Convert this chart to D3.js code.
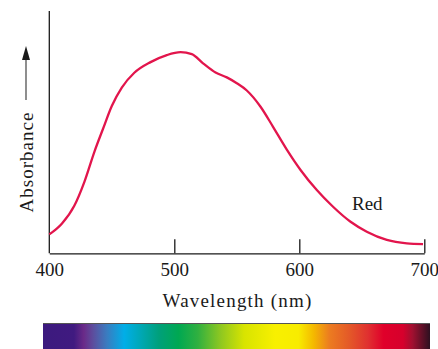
<!DOCTYPE html>
<html>
<head>
<meta charset="utf-8">
<script src="https://cdn.jsdelivr.net/npm/d3@7"></script>
<style>
  body { margin: 0; background: #fff; }
  svg { display: block; }
  .axis path, .axis line { stroke: #1a1a1a; stroke-width: 1.3; }
  .lbl { font-family: "Liberation Serif", serif; fill: #1a1a1a; }
</style>
</head>
<body>
<div id="chart"></div>
<script>
// absorbance spectrum of the red cone pigment (relative units)
const wavelengths = [400, 410, 420, 428, 436, 443, 450, 458, 468, 481, 494, 505, 514, 523, 533, 542, 550, 558, 569, 579, 590, 601, 614, 627, 641, 654, 670, 686, 699];
const absorbance = [0.078, 0.122, 0.196, 0.294, 0.418, 0.514, 0.608, 0.684, 0.745, 0.789, 0.818, 0.830, 0.822, 0.784, 0.746, 0.726, 0.702, 0.672, 0.605, 0.522, 0.428, 0.344, 0.261, 0.192, 0.130, 0.089, 0.055, 0.041, 0.038];
const xTicks = [400, 500, 600, 700];

// visible spectrum strip below the chart
const spectrumStops = [0, 0.08, 0.105, 0.13, 0.165, 0.21, 0.25, 0.3, 0.35, 0.4, 0.46, 0.52, 0.6, 0.66, 0.7, 0.74, 0.79, 0.84, 0.88, 0.93, 0.955, 1];
const spectrumColors = ["#3c1a7e", "#401a80", "#6a2a88", "#5c4e9e", "#3a7cc0", "#00aee8", "#00a8b8", "#00a07a", "#00a852", "#30b040", "#90c820", "#d8e400", "#f8f000", "#f8ec00", "#f4b800", "#ec7c20", "#e45a28", "#e03030", "#e0002a", "#d6002c", "#a01030", "#2c1020"];

const W = 438, H = 349;
const svg = d3.select("#chart").append("svg")
  .attr("width", W).attr("height", H);

const x = d3.scaleLinear().domain([400, 700]).range([49.3, 424.3]);
const y = d3.scaleLinear().domain([0, 1]).range([253.3, 11]);

// y axis (no ticks)
svg.append("line")
  .attr("x1", x(400)).attr("x2", x(400))
  .attr("y1", y(1)).attr("y2", y(0))
  .attr("stroke", "#1a1a1a").attr("stroke-width", 1.3);

// x axis with inward ticks
const xAxis = svg.append("g")
  .attr("class", "axis")
  .attr("transform", `translate(0,${y(0)})`)
  .call(d3.axisBottom(x).tickValues(xTicks).tickSizeInner(-14).tickSizeOuter(0).tickFormat(d3.format("d")));
xAxis.selectAll(".tick text")
  .attr("class", "lbl")
  .attr("y", 22.5).attr("dy", 0)
  .style("font-size", "19px");
xAxis.selectAll(".tick").filter(d => d === 400).select("line").remove();

svg.append("text")
  .attr("class", "lbl")
  .attr("x", 237.5).attr("y", 307)
  .attr("text-anchor", "middle")
  .style("font-size", "19px")
  .style("letter-spacing", "1.2px")
  .text("Wavelength (nm)");

// y label and arrow
svg.append("text")
  .attr("class", "lbl")
  .attr("transform", "translate(33,162) rotate(-90)")
  .attr("text-anchor", "middle")
  .style("font-size", "19px")
  .style("letter-spacing", "1px")
  .text("Absorbance");

svg.append("line")
  .attr("x1", 26).attr("x2", 26)
  .attr("y1", 100).attr("y2", 56)
  .attr("stroke", "#444").attr("stroke-width", 1.2);
svg.append("path")
  .attr("d", "M26,46 L22,60 L30,60 Z")
  .attr("fill", "#1a1a1a");

// curve
const line = d3.line()
  .x((d, i) => x(wavelengths[i]))
  .y(d => y(d))
  .curve(d3.curveMonotoneX);

svg.append("path")
  .datum(absorbance)
  .attr("d", line)
  .attr("fill", "none")
  .attr("stroke", "#e2154c")
  .attr("stroke-width", 2.3);

svg.append("text")
  .attr("class", "lbl")
  .attr("x", 352).attr("y", 210)
  .style("font-size", "19px")
  .text("Red");

// spectrum strip
const grad = svg.append("defs").append("linearGradient")
  .attr("id", "spec").attr("x1", "0%").attr("x2", "100%");
grad.selectAll("stop")
  .data(spectrumStops)
  .join("stop")
  .attr("offset", d => d)
  .attr("stop-color", (d, i) => spectrumColors[i]);

svg.append("rect")
  .attr("x", 43).attr("y", 323)
  .attr("width", 387).attr("height", 30)
  .attr("fill", "url(#spec)");
svg.append("line")
  .attr("x1", 43).attr("x2", 430)
  .attr("y1", 323.5).attr("y2", 323.5)
  .attr("stroke", "#555").attr("stroke-width", 1);
</script>
</body>
</html>
